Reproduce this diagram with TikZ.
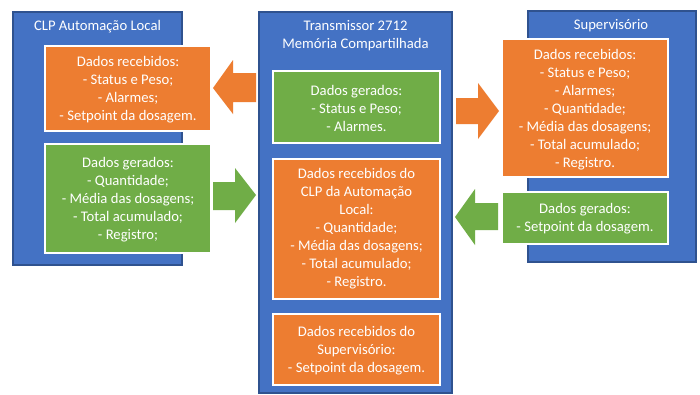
\documentclass[tikz,border=0pt]{standalone}
\usepackage{fontspec}
\setmainfont{Carlito}
\definecolor{cblue}{HTML}{4472C4}
\definecolor{cblueedge}{HTML}{2F528F}
\definecolor{corange}{HTML}{ED7D31}
\definecolor{cgreen}{HTML}{70AD47}
\tikzset{
  container/.style={fill=cblue, draw=cblueedge, line width=0.8pt},
  obox/.style={fill=corange, draw=white, line width=0.8pt},
  gbox/.style={fill=cgreen, draw=white, line width=0.8pt},
  txt/.style={text=white, align=center, inner sep=0pt, font=\fontsize{11}{13.5}\selectfont},
  oarrow/.style={fill=corange, draw=none},
  garrow/.style={fill=cgreen, draw=none},
}
\begin{document}
\begin{tikzpicture}[x=0.75pt,y=-0.75pt]
\useasboundingbox[fill=white] (0,0) rectangle (700,394);
% containers
\path[container] (13,12) rectangle (182,265);
\path[container] (259,12) rectangle (452,393);
\path[container] (528,11) rectangle (696,262);
% titles
\node[txt] (tclp) at (97.5,27) {CLP Automação Local};
\node[txt] (ttr) at (355.5,36) {Transmissor 2712\\Memória Compartilhada};
\node[txt] (tsup) at (611,26) {Supervisório};
% left boxes
\path[obox] (45,46) rectangle (211,131);
\node[txt] (lrec) at (128,90) {Dados recebidos:\\- Status e Peso;\\- Alarmes;\\- Setpoint da dosagem.};
\path[gbox] (45,144) rectangle (211,253);
\node[txt] (lger) at (128,200) {Dados gerados:\\- Quantidade;\\- Média das dosagens;\\- Total acumulado;\\- Registro;};
% middle boxes
\path[gbox] (273,71) rectangle (440,143);
\node[txt] (mger) at (356.5,108) {Dados gerados:\\- Status e Peso;\\- Alarmes.};
\path[obox] (273,159) rectangle (440,299);
\node[txt] (mrec1) at (356.5,229) {Dados recebidos do\\CLP da Automação\\Local:\\- Quantidade;\\- Média das dosagens;\\- Total acumulado;\\- Registro.};
\path[obox] (273,314) rectangle (440,385);
\node[txt] (mrec2) at (356.5,351) {Dados recebidos do\\Supervisório:\\- Setpoint da dosagem.};
% right boxes
\path[obox] (502,39) rectangle (668,177);
\node[txt] (rrec) at (585,110) {Dados recebidos:\\- Status e Peso;\\- Alarmes;\\- Quantidade;\\- Média das dosagens;\\- Total acumulado;\\- Registro.};
\path[gbox] (502,192) rectangle (668,244);
\node[txt] (rger) at (585,219) {Dados gerados:\\- Setpoint da dosagem.};
% block arrows
\fill[oarrow] (213,88) -- (233,60) -- (233,73) -- (256,73) -- (256,102) -- (233,102) -- (233,114) -- cycle;
\fill[garrow] (213,182) -- (235,182) -- (235,168) -- (256,195) -- (235,223) -- (235,210) -- (213,210) -- cycle;
\fill[oarrow] (456,98) -- (478,98) -- (478,83) -- (499,111) -- (478,139) -- (478,124) -- (456,124) -- cycle;
\fill[garrow] (455,217) -- (475,189) -- (475,203) -- (498,203) -- (498,230) -- (475,230) -- (475,245) -- cycle;
\end{tikzpicture}
\end{document}
